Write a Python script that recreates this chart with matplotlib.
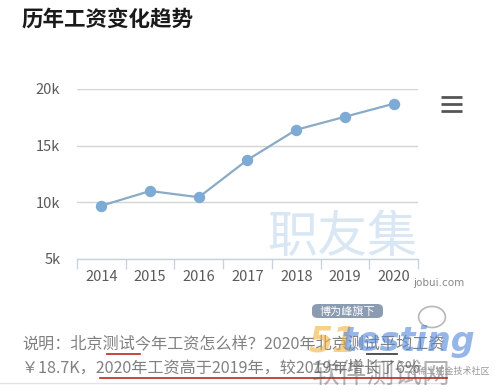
import matplotlib
matplotlib.use("Agg")
import matplotlib.pyplot as plt
from matplotlib.patches import FancyBboxPatch, Circle
from matplotlib.lines import Line2D

plt.rcParams['font.family'] = ['Noto Sans CJK SC', 'DejaVu Sans']

years = ['2014', '2015', '2016', '2017', '2018', '2019', '2020']
salary_k = [9.7, 11.0, 10.45, 13.75, 16.4, 17.55, 18.7]
yticks = [5, 10, 15, 20]
ytick_labels = ['5k', '10k', '15k', '20k']

title = '历年工资变化趋势'
note_line1 = '说明：北京测试今年工资怎么样？2020年北京测试平均工资'
note_line2 = '￥18.7K，2020年工资高于2019年，较2019年增长了6%'

W, H = 497, 390
fig = plt.figure(figsize=(W / 100, H / 100), dpi=100)
fig.patch.set_facecolor('white')

def fx(px):
    return px / W

def fy(py):
    return 1 - py / H

ax = fig.add_axes([fx(77), fy(259), fx(418) - fx(77), fy(89) - fy(259)])
ax.set_facecolor('none')
x = list(range(len(years)))

# watermark
ax.text(fx(342), fy(238), '职友集', transform=fig.transFigure, ha='center', va='center',
        fontsize=36, color='#d9e7f4', fontweight='normal', zorder=0)

ax.plot(x, salary_k, color='#8aabc6', lw=1.6, marker='o', markersize=7.2,
        markerfacecolor='#7eaad6', markeredgecolor='#7eaad6', zorder=3, clip_on=False)

ax.set_xlim(-0.5, len(years) - 0.5)
ax.set_ylim(5, 20)
ax.set_yticks(yticks)
ax.set_yticklabels(ytick_labels)
ax.set_xticks(x)
ax.set_xticklabels(years)
ax.set_xticks([i - 0.5 for i in range(len(years) + 1)], minor=True)

for s in ['top', 'right', 'left']:
    ax.spines[s].set_visible(False)
ax.spines['bottom'].set_color('#c8d2dc')
ax.spines['bottom'].set_linewidth(1.0)
ax.grid(axis='y', color='#d4d4d4', lw=1.0)
ax.set_axisbelow(True)
ax.tick_params(axis='y', length=0, pad=12, labelsize=10.5, labelcolor='#5a5a5a')
ax.tick_params(axis='x', which='major', length=0, pad=8, labelsize=10.5, labelcolor='#5a5a5a')
ax.tick_params(axis='x', which='minor', length=7.5, width=1.0, color='#c8d2dc', direction='out')

# title
fig.text(fx(22), fy(19), title, ha='left', va='center', fontsize=15.5, fontweight='bold',
         color='#1a1a1a')

# jobui.com
fig.text(fx(413), fy(283), 'jobui.com', ha='left', va='center', fontsize=7.5, color='#888888',
         family=['DejaVu Sans'])

# hamburger menu
for yy in [97, 104, 111]:
    fig.add_artist(Line2D([fx(441), fx(462)], [fy(yy), fy(yy)], color='#555555', lw=2.0,
                          solid_capstyle='butt'))

# bottom description
fig.text(fx(22), fy(344), note_line1, ha='left', va='center', fontsize=11.6, color='#808080')
fig.text(fx(22), fy(368), note_line2, ha='left', va='center', fontsize=11.6, color='#808080')

# red underlines
fig.add_artist(Line2D([fx(107), fx(140)], [fy(354), fy(354)], color='#c0392b', lw=1.3))
fig.add_artist(Line2D([fx(367), fx(397)], [fy(354), fy(354)], color='#444444', lw=1.3))
fig.add_artist(Line2D([fx(100), fx(447)], [fy(378), fy(378)], color='#c0392b', lw=1.3))

# separator
fig.add_artist(Line2D([0, fx(440)], [fy(383), fy(383)], color='#e4e4e4', lw=1.0))

# 51testing logo overlay
box = FancyBboxPatch((fx(312), fy(318)), fx(71), fy(304) - fy(318),
                     boxstyle='round,pad=0.0,rounding_size=0.012', transform=fig.transFigure,
                     facecolor='#7f90a8', edgecolor='none', alpha=0.9)
fig.add_artist(box)
fig.text(fx(347), fy(311), '博为峰旗下', ha='center', va='center', fontsize=8, color='white')
fig.add_artist(Circle((fx(432), fy(317)), 0.027, transform=fig.transFigure, fill=False,
                      edgecolor='#999999', lw=1.2, alpha=0.7))
fig.text(fx(309), fy(341), '51', ha='left', va='center', fontsize=25, color='#f2b13c', alpha=0.6,
         fontweight='heavy', style='italic', family=['DejaVu Sans'])
fig.text(fx(342), fy(341), 'testing', ha='left', va='center', fontsize=24, color='#4f86d8',
         alpha=0.6, fontweight='heavy', style='italic', family=['DejaVu Sans'])
fig.text(fx(312), fy(375), '软件测试网', ha='left', va='center', fontsize=20, color='#555555',
         alpha=0.45)
fig.text(fx(490), fy(371), '@稀土掘金技术社区', ha='right', va='center', fontsize=6.5,
         color='#999999')

fig.savefig('out.png', dpi=100, facecolor='white')
